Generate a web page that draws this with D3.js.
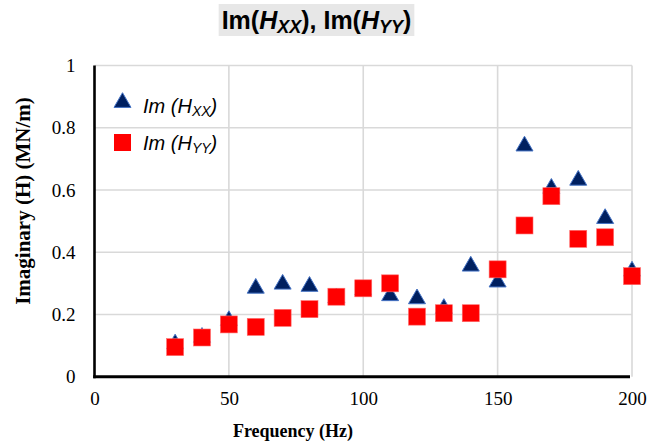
<!DOCTYPE html>
<html>
<head>
<meta charset="utf-8">
<script src="https://cdn.jsdelivr.net/npm/d3@7"></script>
<style>
  html, body { margin: 0; padding: 0; background: #fff; }
  svg { display: block; }
</style>
</head>
<body>
<svg id="chart" width="662" height="444"></svg>
<script>
// Frequency sweep, imaginary part of the direct FRFs
const frequency = [30, 40, 50, 60, 70, 80, 90, 100, 110, 120, 130, 140, 150, 160, 170, 180, 190, 200];
const imHxx = [0.11, 0.131, 0.185, 0.289, 0.302, 0.295, 0.258, 0.283, 0.265, 0.255, 0.224, 0.36, 0.309, 0.746, 0.61, 0.636, 0.513, 0.344];
const imHyy = [0.095, 0.126, 0.168, 0.16, 0.189, 0.217, 0.257, 0.284, 0.3, 0.193, 0.204, 0.204, 0.345, 0.486, 0.58, 0.443, 0.448, 0.323];
const xTicks = [0, 50, 100, 150, 200];
const yTicks = [0, 0.2, 0.4, 0.6, 0.8, 1];

const svg = d3.select("#chart");
const plotLeft = 94.5, plotRight = 632, plotTop = 65.5, plotBottom = 376.7;
const serif = "'Liberation Serif', 'Times New Roman', serif";
const sansFont = "'Liberation Sans', Arial, sans-serif";

const x = d3.scaleLinear().domain([0, 200]).range([plotLeft, plotRight]);
const y = d3.scaleLinear().domain([0, 1]).range([plotBottom, plotTop]);

// gridlines
const grid = svg.append("g").attr("stroke", "#d9d9d9").attr("stroke-width", 1.6);
grid.selectAll("line.h").data(yTicks.filter(d => d > 0)).join("line")
  .attr("x1", plotLeft).attr("x2", plotRight).attr("y1", d => y(d)).attr("y2", d => y(d));
grid.selectAll("line.v").data(xTicks.filter(d => d > 0)).join("line")
  .attr("y1", plotTop).attr("y2", plotBottom).attr("x1", d => x(d)).attr("x2", d => x(d));

// axes (tick labels only, heavy black spines)
const yAxis = svg.append("g").attr("transform", `translate(${plotLeft},0)`)
  .call(d3.axisLeft(y).tickValues(yTicks).tickSize(0).tickPadding(19).tickFormat(d => String(+d.toFixed(1))));
const xAxis = svg.append("g").attr("transform", `translate(0,${plotBottom})`)
  .call(d3.axisBottom(x).tickValues(xTicks).tickSize(0).tickPadding(15));
[yAxis, xAxis].forEach(a => {
  a.select(".domain").remove();
  a.selectAll("text").attr("font-family", serif).attr("font-size", 19).attr("fill", "#000");
});
svg.append("line").attr("x1", plotLeft).attr("x2", plotLeft).attr("y1", plotTop).attr("y2", plotBottom + 1.5)
  .attr("stroke", "#000").attr("stroke-width", 2.6);
svg.append("line").attr("x1", plotLeft - 1.3).attr("x2", plotRight - 2).attr("y1", plotBottom).attr("y2", plotBottom)
  .attr("stroke", "#000").attr("stroke-width", 3);

// axis titles
svg.append("text").attr("x", 293).attr("y", 437).attr("text-anchor", "middle")
  .attr("font-family", serif).attr("font-weight", "bold").attr("font-size", 18).text("Frequency (Hz)");
svg.append("text").attr("transform", "translate(30,201) rotate(-90)").attr("text-anchor", "middle")
  .attr("font-family", serif).attr("font-weight", "bold").attr("font-size", 21).text("Imaginary (H) (MN/m)");

// markers
const triSym = d3.symbol().type(d3.symbolTriangle).size(125);
const marks = svg.append("g");
const xx = frequency.map((f, i) => ({ f, v: imHxx[i] }));
const yy = frequency.map((f, i) => ({ f, v: imHyy[i] }));
marks.selectAll("path.tri").data(xx).join("path")
  .attr("transform", d => `translate(${x(d.f)},${y(d.v) + 1.5})`)
  .attr("d", triSym).attr("fill", "#002060").attr("stroke", "#4472c4").attr("stroke-width", 1);
marks.selectAll("rect.sq").data(yy).join("rect")
  .attr("x", d => x(d.f) - 8.5).attr("y", d => y(d.v) - 8.5).attr("width", 17).attr("height", 17)
  .attr("fill", "#ff0000").attr("stroke", "#ff6b6b").attr("stroke-width", 0.6);

// legend
const lg = svg.append("g");
lg.append("path").attr("transform", "translate(122.5,102.5)").attr("d", triSym)
  .attr("fill", "#002060").attr("stroke", "#4472c4").attr("stroke-width", 1);
lg.append("rect").attr("x", 114).attr("y", 134).attr("width", 17).attr("height", 17)
  .attr("fill", "#ff0000");
function legendText(yPos, sub) {
  const t = lg.append("text").attr("x", 143).attr("y", yPos).attr("font-family", sansFont)
    .attr("font-style", "italic").attr("font-size", 20).attr("fill", "#000");
  t.append("tspan").text("Im (H");
  t.append("tspan").attr("font-size", 14).attr("dy", 3).text(sub);
  t.append("tspan").attr("dy", -3).text(")");
}
legendText(113, "XX");
legendText(150, "YY");

// title with shaded box
const tg = svg.append("g");
const bg = tg.append("rect").attr("fill", "#e7e7e7");
const title = tg.append("text").attr("x", 316.5).attr("y", 28.5).attr("text-anchor", "middle")
  .attr("font-family", sansFont).attr("font-weight", "bold").attr("font-size", 25).attr("fill", "#000");
title.append("tspan").text("Im(");
title.append("tspan").attr("font-style", "italic").text("H");
title.append("tspan").attr("font-style", "italic").attr("font-size", 18).attr("dy", 4).text("XX");
title.append("tspan").attr("dy", -4).text("), Im(");
title.append("tspan").attr("font-style", "italic").text("H");
title.append("tspan").attr("font-style", "italic").attr("font-size", 18).attr("dy", 4).text("YY");
title.append("tspan").attr("dy", -4).text(")");
const bb = title.node().getBBox();
bg.attr("x", bb.x - 3).attr("y", 4).attr("width", bb.width + 6).attr("height", 32);
</script>
</body>
</html>
